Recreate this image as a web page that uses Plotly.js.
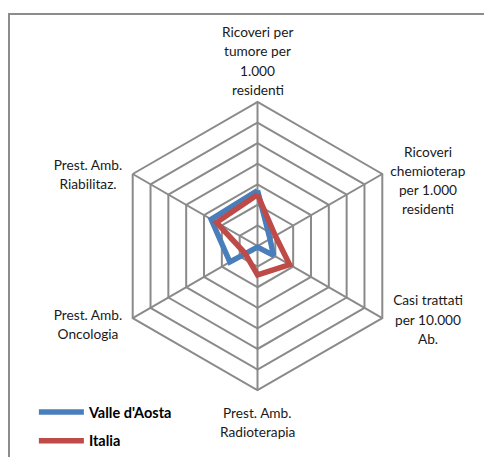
<!DOCTYPE html>
<html>
<head>
<meta charset="utf-8">
<script src="https://cdn.plot.ly/plotly-3.0.1.min.js"></script>
<style>
  body { margin: 0; background: white; }
  #frame { position: absolute; left: 8px; top: 13px; width: 520px; height: 500px;
           border: 2px solid #8c8c8c; box-sizing: border-box; }
  #chart { position: absolute; left: 0; top: 0; width: 484px; height: 457px; }
</style>
</head>
<body>
<div id="frame"></div>
<div id="chart"></div>
<script>
// axis categories, clockwise from the top (Excel radar order)
var categories = [
  "Ricoveri per<br>tumore per<br>1.000<br>residenti",
  "Ricoveri<br>chemioterap<br>per 1.000<br>residenti",
  "Casi trattati<br>per 10.000<br>Ab.",
  "Prest. Amb.<br>Radioterapia",
  "Prest. Amb.<br>Oncologia",
  "Prest. Amb.<br>Riabilitaz."
];

// values (grid rings = 1 unit)
var valleAosta = [2.7, 0.7, 0.9, 0.05, 1.55, 2.6];
var italia     = [2.5, 1.0, 1.8, 1.4, 0.7, 2.3];

var gridGray = '#8a8a8a';
var W = 484, H = 457;
// polar centre and outer radius in px
var cx = 257.5, cy = 251, R = 147;
// small vertical nudges for each label block (px)
var labelNudge = [3, 8, 3, 3, 8, 2];

// close the polygons
function closed(arr){ return arr.concat([arr[0]]) }
var theta = closed(categories);

var trace_va = {
  type: 'scatterpolar',
  r: closed(valleAosta),
  theta: theta,
  mode: 'lines',
  name: "Valle d'Aosta",
  legendgroup: 'a',
  line: {color: '#4a7ebb', width: 5.5},
  hoverinfo: 'skip'
};
var trace_it = {
  type: 'scatterpolar',
  r: closed(italia),
  theta: theta,
  mode: 'lines',
  name: 'Italia',
  legendgroup: 'b',
  line: {color: '#be4b48', width: 5.5},
  hoverinfo: 'skip'
};

// category labels, centred line by line like Excel does
var lineH = 19.5;
var labels = [];
categories.forEach(function(cat, i){
  var lines = cat.split('<br>');
  var ang = (90 - 60*i) * Math.PI/180;
  var vx = cx + R*Math.cos(ang), vy = cy - R*Math.sin(ang);
  var n = lines.length, xanchor, x0, y0, boxW = null;
  if (Math.abs(Math.cos(ang)) < 0.01) {
    xanchor = 'center'; x0 = vx;
    // above the top vertex / below the bottom vertex
    y0 = Math.sin(ang) > 0 ? vy - 16 - (n-1)*lineH : vy + 20;
  } else if (Math.cos(ang) > 0) {
    xanchor = 'left'; x0 = vx; boxW = 82;
    y0 = vy - 2 - (n-1)*lineH/2;
  } else {
    xanchor = 'right'; x0 = vx - 5; boxW = 70;
    y0 = vy - 2 - (n-1)*lineH/2;
  }
  y0 += labelNudge[i];
  lines.forEach(function(s, k){
    labels.push({
      text: s,
      x: x0/W, y: 1 - (y0 + k*lineH)/H,
      xref: 'paper', yref: 'paper',
      xanchor: xanchor, yanchor: 'middle',
      showarrow: false,
      align: 'center',
      width: boxW,
      font: {size: 13.7, color: '#1a1a1a'}
    });
  });
});

var layout = {
  width: W,
  height: H,
  margin: {l: 0, r: 0, t: 0, b: 0},
  paper_bgcolor: 'rgba(0,0,0,0)',
  plot_bgcolor: 'rgba(0,0,0,0)',
  font: {family: 'Lato, "Open Sans", sans-serif', size: 13, color: '#222'},
  showlegend: true,
  legend: {
    x: 0.07, xanchor: 'left',
    y: 1 - 404/H, yanchor: 'top',
    traceorder: 'grouped',
    tracegroupgap: 7,
    itemwidth: 45,
    font: {size: 14.5, color: '#000', weight: 'bold'},
    bgcolor: 'rgba(0,0,0,0)'
  },
  annotations: labels,
  polar: {
    domain: {x: [(cx-R)/W, (cx+R)/W], y: [1-(cy+R)/H, 1-(cy-R)/H]},
    gridshape: 'linear',
    bgcolor: 'rgba(0,0,0,0)',
    radialaxis: {
      range: [0, 7],
      dtick: 1,
      showticklabels: false,
      ticks: '',
      showline: false,
      gridcolor: gridGray,
      gridwidth: 2
    },
    angularaxis: {
      rotation: 90,
      direction: 'clockwise',
      ticks: '',
      showticklabels: false,
      showline: true,
      linecolor: gridGray,
      linewidth: 2,
      gridcolor: gridGray,
      gridwidth: 2
    }
  }
};

Plotly.newPlot('chart', [trace_va, trace_it], layout, {displayModeBar: false});
</script>
</body>
</html>
